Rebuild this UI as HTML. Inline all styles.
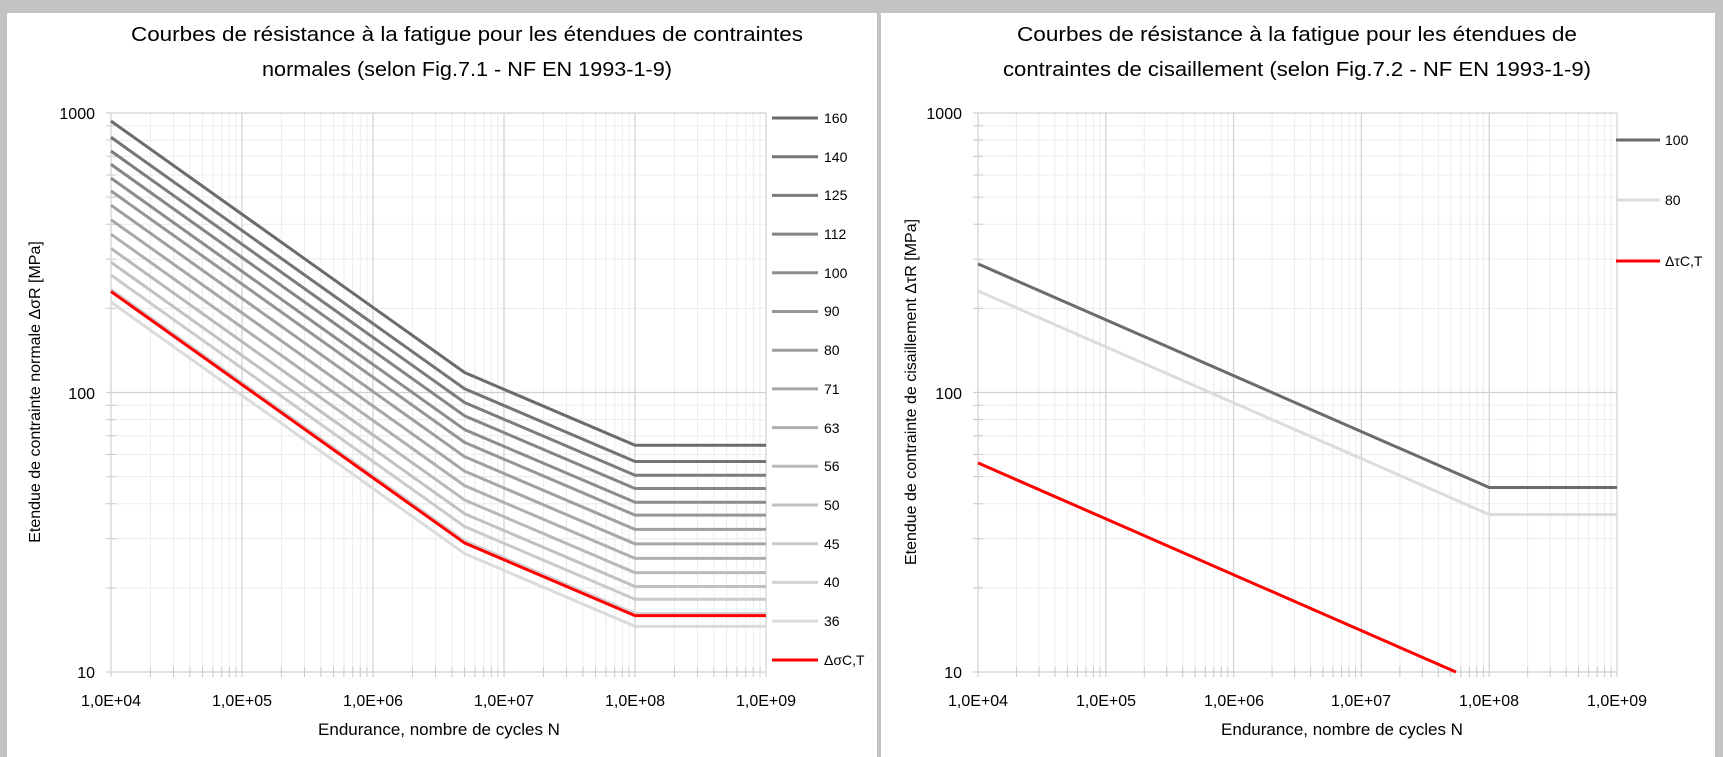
<!DOCTYPE html>
<html><head><meta charset="utf-8"><style>
html,body{margin:0;padding:0;background:#c3c3c3;}
svg{display:block;}
text{font-family:"Liberation Sans Narrow","Liberation Sans",sans-serif;fill:#000;}
</style></head><body>
<svg id="s" width="1723" height="757" xmlns="http://www.w3.org/2000/svg">
<rect x="0" y="0" width="1723" height="757" fill="#c3c3c3"/>
<rect x="7" y="13" width="870" height="744" fill="#fff"/>
<rect x="881" y="13" width="834" height="744" fill="#fff"/>
<g id="grid"></g>
<g id="curves"></g>
<!-- Left titles -->
<text x="467" y="41" font-size="20" text-anchor="middle" textLength="672" lengthAdjust="spacingAndGlyphs">Courbes de résistance à la fatigue pour les étendues de contraintes</text>
<text x="467" y="76" font-size="20" text-anchor="middle" textLength="410" lengthAdjust="spacingAndGlyphs">normales (selon Fig.7.1 - NF EN 1993-1-9)</text>
<text x="1297" y="41" font-size="20" text-anchor="middle" textLength="560" lengthAdjust="spacingAndGlyphs">Courbes de résistance à la fatigue pour les étendues de</text>
<text x="1297" y="76" font-size="20" text-anchor="middle" textLength="588" lengthAdjust="spacingAndGlyphs">contraintes de cisaillement (selon Fig.7.2 - NF EN 1993-1-9)</text>
<!-- Left y ticks -->
<text x="95" y="119" font-size="16" text-anchor="end">1000</text>
<text x="95" y="399" font-size="16" text-anchor="end">100</text>
<text x="95" y="678" font-size="16" text-anchor="end">10</text>
<text x="962" y="119" font-size="16" text-anchor="end">1000</text>
<text x="962" y="399" font-size="16" text-anchor="end">100</text>
<text x="962" y="678" font-size="16" text-anchor="end">10</text>
<!-- Left x ticks -->
<text x="111" y="706" font-size="16" text-anchor="middle">1,0E+04</text>
<text x="242" y="706" font-size="16" text-anchor="middle">1,0E+05</text>
<text x="373" y="706" font-size="16" text-anchor="middle">1,0E+06</text>
<text x="504" y="706" font-size="16" text-anchor="middle">1,0E+07</text>
<text x="635" y="706" font-size="16" text-anchor="middle">1,0E+08</text>
<text x="766" y="706" font-size="16" text-anchor="middle">1,0E+09</text>
<text x="978" y="706" font-size="16" text-anchor="middle">1,0E+04</text>
<text x="1106" y="706" font-size="16" text-anchor="middle">1,0E+05</text>
<text x="1234" y="706" font-size="16" text-anchor="middle">1,0E+06</text>
<text x="1361" y="706" font-size="16" text-anchor="middle">1,0E+07</text>
<text x="1489" y="706" font-size="16" text-anchor="middle">1,0E+08</text>
<text x="1617" y="706" font-size="16" text-anchor="middle">1,0E+09</text>
<text x="439" y="735" font-size="17" text-anchor="middle">Endurance, nombre de cycles N</text>
<text x="1342" y="735" font-size="17" text-anchor="middle">Endurance, nombre de cycles N</text>
<text transform="translate(40,392) rotate(-90)" font-size="16" text-anchor="middle">Etendue de contrainte normale ΔσR [MPa]</text>
<text transform="translate(916,392) rotate(-90)" font-size="16" text-anchor="middle">Etendue de contrainte de cisaillement ΔτR [MPa]</text>
<!-- Left legend labels -->
<g font-size="14">
<text x="824" y="123">160</text>
<text x="824" y="162">140</text>
<text x="824" y="200">125</text>
<text x="824" y="239">112</text>
<text x="824" y="278">100</text>
<text x="824" y="316">90</text>
<text x="824" y="355">80</text>
<text x="824" y="394">71</text>
<text x="824" y="433">63</text>
<text x="824" y="471">56</text>
<text x="824" y="510">50</text>
<text x="824" y="549">45</text>
<text x="824" y="587">40</text>
<text x="824" y="626">36</text>
<text x="824" y="665">ΔσC,T</text>
<text x="1665" y="145">100</text>
<text x="1665" y="205">80</text>
<text x="1665" y="266">ΔτC,T</text>
</g>
</svg>
<script>
const NS="http://www.w3.org/2000/svg";
const grid=document.getElementById('grid'),cur=document.getElementById('curves');
function el(p,t,a){const e=document.createElementNS(NS,t);for(const k in a)e.setAttribute(k,a[k]);p.appendChild(e);return e;}
const Y=v=>672-(Math.log10(v)-1)*279.5;
function panel(x0,x1){
  const dx=(x1-x0)/5, X=n=>x0+(Math.log10(n)-4)*dx;
  for(let d=4;d<9;d++)for(let m=2;m<10;m++){const x=X(m*10**d);el(grid,'line',{x1:x,x2:x,y1:113,y2:672,stroke:'#ececec','stroke-width':1});el(grid,'line',{x1:x,x2:x,y1:667,y2:677,stroke:'#c8c8c8','stroke-width':1});}
  for(let d=1;d<3;d++)for(let m=2;m<10;m++){const y=Y(m*10**d);el(grid,'line',{x1:x0,x2:x1,y1:y,y2:y,stroke:'#ececec','stroke-width':1});el(grid,'line',{x1:x0-5,x2:x0+5,y1:y,y2:y,stroke:'#c8c8c8','stroke-width':1});}
  for(let d=4;d<=9;d++){const x=X(10**d);el(grid,'line',{x1:x,x2:x,y1:113,y2:677,stroke:'#d4d4d4','stroke-width':1.3});}
  for(const v of [10,100,1000]){const y=Y(v);el(grid,'line',{x1:x0-5,x2:x1,y1:y,y2:y,stroke:'#d0d0d0','stroke-width':1.3});}
  return X;
}
const XL=panel(111,766), XR=panel(978,1617);
function line(X,pts,c,w){el(cur,'polyline',{points:pts.map(p=>X(p[0])+','+Y(p[1])).join(' '),fill:'none',stroke:c,'stroke-width':w||3,'stroke-linejoin':'round'});}
const cats=[160,140,125,112,100,90,80,71,63,56,50,45,40,36];
function col(i,n){const a=0x6b,b=0xdb;const v=Math.round(a+(b-a)*i/(n-1));return `rgb(${v},${v},${v})`;}
function lcurve(C){return [[1e4,C*Math.cbrt(200)],[5e6,C*Math.cbrt(0.4)],[1e8,C*Math.cbrt(0.4)*Math.pow(0.05,0.2)],[1e9,C*Math.cbrt(0.4)*Math.pow(0.05,0.2)]];}
cats.slice().reverse().forEach((C,j)=>{const i=cats.length-1-j;line(XL,lcurve(C),col(i,cats.length));});
line(XL,lcurve(39.3),'#ff0000');
cats.forEach((C,i)=>{const y=118+i*38.7;el(cur,'line',{x1:772,x2:818,y1:y,y2:y,stroke:col(i,cats.length),'stroke-width':3});});
el(cur,'line',{x1:772,x2:818,y1:660,y2:660,stroke:'#ff0000','stroke-width':3});
function rcurve(C){const L=C*Math.pow(0.02,0.2);return [[1e4,C*Math.pow(200,0.2)],[1e8,L],[1e9,L]];}
line(XR,rcurve(80),'#dcdcdc');line(XR,rcurve(100),'#6b6b6b');
const Ct=19.4;line(XR,[[1e4,Ct*Math.pow(200,0.2)],[2e6*Math.pow(Ct/10,5),10]],'#ff0000');
[[140,'#6b6b6b'],[200,'#dcdcdc'],[261,'#ff0000']].forEach(([y,c])=>el(cur,'line',{x1:1616,x2:1660,y1:y,y2:y,stroke:c,'stroke-width':3}));
</script>
</body></html>
